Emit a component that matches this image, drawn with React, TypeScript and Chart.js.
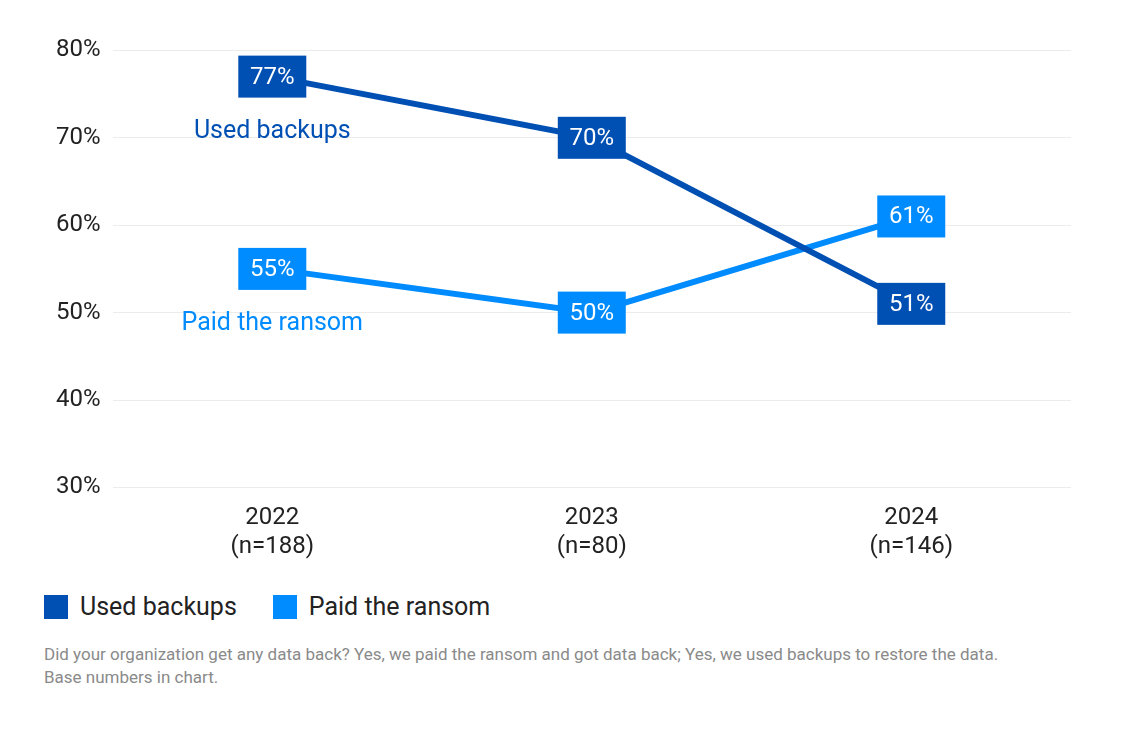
import React, { useEffect, useRef } from "react";
import { Chart, registerables } from "chart.js";
Chart.register(...registerables);

const categories = [["2022", "(n=188)"], ["2023", "(n=80)"], ["2024", "(n=146)"]];
const seriesNames = ["Used backups", "Paid the ransom"];
const usedBackups = [77, 70, 51];
const paidRansom = [55, 50, 61];
const colors = ["#0050b4", "#008cff"];
const yTicks = [30, 40, 50, 60, 70, 80];
const FONT = "Roboto, 'Noto Sans', sans-serif";

const labelPlugin = {
  id: "boxes",
  afterDatasetsDraw(chart: any) {
    const ctx = chart.ctx;
    chart.data.datasets.forEach((ds: any, di: number) => {
      const meta = chart.getDatasetMeta(di);
      meta.data.forEach((pt: any, i: number) => {
        const w = 68, h = 42;
        ctx.fillStyle = ds.borderColor;
        ctx.fillRect(pt.x - w / 2, pt.y - h / 2, w, h);
        ctx.fillStyle = "#ffffff";
        ctx.font = `24px ${FONT}`;
        ctx.textAlign = "center";
        ctx.textBaseline = "middle";
        ctx.fillText(ds.data[i] + "%", pt.x, pt.y + 1);
      });
      const p0 = meta.data[0];
      ctx.fillStyle = ds.borderColor;
      ctx.font = `25px ${FONT}`;
      ctx.textAlign = "center";
      ctx.textBaseline = "middle";
      ctx.fillText(ds.label, p0.x, p0.y + 55);
    });
  },
};

export default function App() {
  const ref = useRef<HTMLCanvasElement>(null);
  useEffect(() => {
    const chart = new Chart(ref.current!, {
      type: "line",
      data: {
        labels: categories,
        datasets: [
          { label: seriesNames[0], data: usedBackups, borderColor: colors[0], borderWidth: 6, pointRadius: 0, tension: 0 },
          { label: seriesNames[1], data: paidRansom, borderColor: colors[1], borderWidth: 6, pointRadius: 0, tension: 0 },
        ],
      },
      options: {
        animation: false,
        responsive: false,
        layout: { padding: { top: 0, right: 66, left: 36 } },
        plugins: { legend: { display: false }, tooltip: { enabled: false } },
        scales: {
          x: {
            offset: true,
            grid: { display: false },
            border: { display: false },
            ticks: { color: "#222", font: { family: FONT, size: 24 }, padding: 8 },
          },
          y: {
            min: 30, max: 80,
            afterBuildTicks: (s: any) => { s.ticks = yTicks.map((v) => ({ value: v })); },
            grid: { color: "#ececec", drawTicks: false },
            border: { display: false },
            ticks: { color: "#222", font: { family: FONT, size: 24 }, padding: 12, callback: (v: any) => v + "%" },
          },
        },
      },
      plugins: [labelPlugin],
    });
    return () => chart.destroy();
  }, []);
  return (
    <div style={{ fontFamily: FONT, width: 1129 }}>
      <canvas ref={ref} width={1129} height={545} style={{ display: "block", marginTop: 16 }} />
      <div style={{ display: "flex", marginLeft: 36, marginTop: 23, fontSize: 25, color: "#222" }}>
        {seriesNames.map((n, i) => (
          <div key={n} style={{ display: "flex", alignItems: "center", marginRight: 36 }}>
            <span style={{ width: 24, height: 24, background: colors[i], display: "inline-block", marginRight: 12 }} />
            {n}
          </div>
        ))}
      </div>
      <div style={{ marginLeft: 36, marginTop: 22, width: 990, fontSize: 17, lineHeight: "23px", color: "#8a8a8a" }}>
        Did your organization get any data back? Yes, we paid the ransom and got data back; Yes, we used backups to restore the data. Base numbers in chart.
      </div>
    </div>
  );
}
